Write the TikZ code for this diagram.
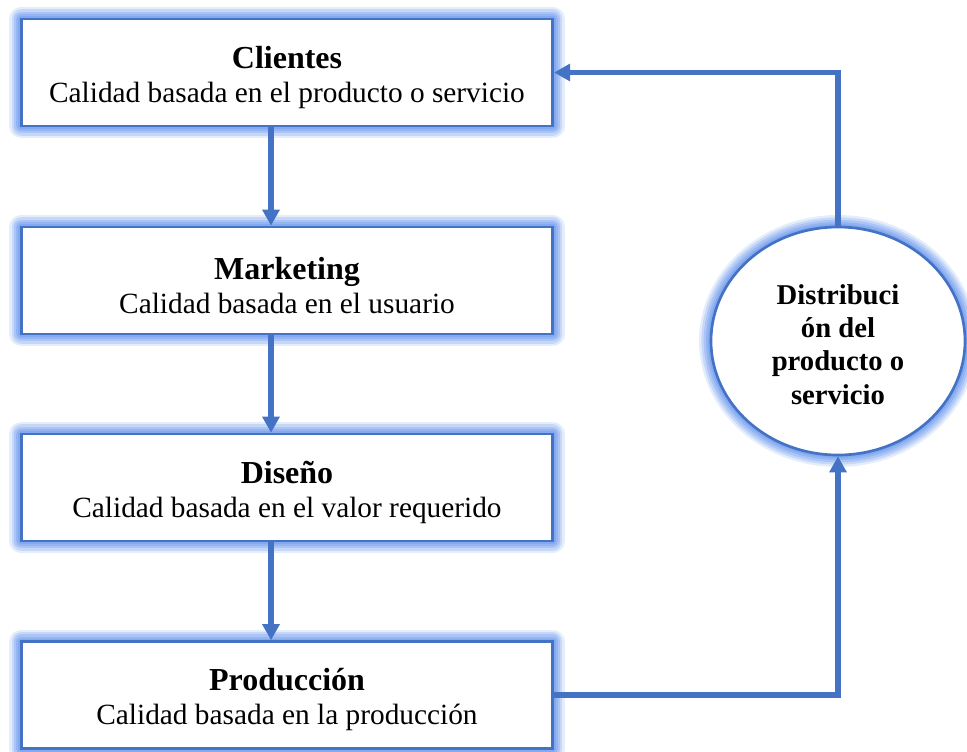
\documentclass[tikz,border=0pt]{standalone}
\usepackage{fontspec}
\setmainfont{Liberation Serif}
\usetikzlibrary{arrows.meta,shapes.geometric}
\definecolor{edge}{HTML}{4472C4}
\definecolor{halo}{HTML}{5A8CEB}
\tikzset{
  halo/.style={
    preaction={draw=halo,draw opacity=0.16,line width=18pt,line join=round},
    preaction={draw=halo,draw opacity=0.22,line width=14.5pt,line join=round},
    preaction={draw=halo,draw opacity=0.26,line width=11pt,line join=round},
    preaction={draw=halo,draw opacity=0.28,line width=7.5pt,line join=round},
    preaction={draw=halo,draw opacity=0.28,line width=4.5pt,line join=round}},
  stagebox/.style={halo,draw=edge,line width=2pt,fill=white,inner sep=0pt,
    minimum width=398.6pt,minimum height=80.25pt,align=center,
    font=\fontsize{22}{25.5}\selectfont},
  hubnode/.style={halo,ellipse,draw=edge,line width=2pt,fill=white,inner sep=0pt,
    minimum width=190.5pt,minimum height=171pt,align=center,
    font=\bfseries\fontsize{21.5}{25}\selectfont},
  flow/.style={draw=edge,line width=3.9pt,-{Triangle[length=12pt,width=12.5pt]}}
}
% bold stage title with a taller strut, so the two lines sit slightly lower
\newcommand\stagetitle[1]{\rule{0pt}{24pt}\textbf{\fontsize{24}{25.5}\selectfont #1}}
\begin{document}
\begin{tikzpicture}[x=0.75pt,y=-0.75pt]
  \useasboundingbox (0,0) rectangle (967,751);

  % stage boxes
  \node[stagebox] (cli) at (287,72.5) {\stagetitle{Clientes}\\Calidad basada en el producto o servicio};
  \node[stagebox] (mkt) at (287,280.5) {\stagetitle{Marketing}\\Calidad basada en el usuario};
  \node[stagebox] (dis) at (287,487.5) {\stagetitle{Diseño}\\Calidad basada en el valor requerido};
  \node[stagebox] (pro) at (287,695) {\stagetitle{Producción}\\Calidad basada en la producción};

  % distribution stage
  \node[hubnode] (dst) at (838,341) {\rule{0pt}{20pt}Distribuci\\ón del\\producto o\\servicio};

  % connectors
  \draw[flow] (cli.south -| 271,0) -- (mkt.north -| 271,0);
  \draw[flow] (mkt.south -| 271,0) -- (dis.north -| 271,0);
  \draw[flow] (dis.south -| 271,0) -- (pro.north -| 271,0);
  \draw[flow] (pro.east) -| (dst.south);
  \draw[flow] (dst.north) |- (cli.east);
\end{tikzpicture}
\end{document}
